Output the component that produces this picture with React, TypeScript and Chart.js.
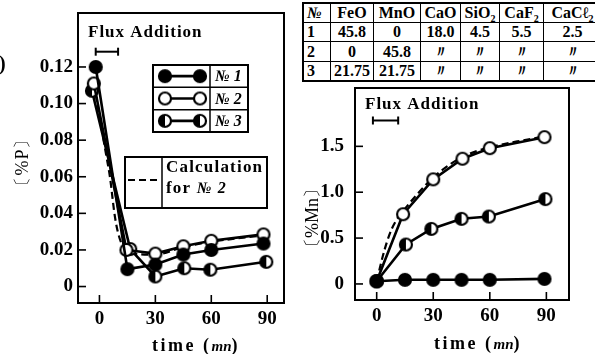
import React, { useEffect, useRef } from "react";
import { Chart, registerables } from "chart.js";
Chart.register(...registerables);

// ---- Data: %P (left chart) ----
const pTime1 = [-2, 15, 30, 45, 60, 88];
const pNo1 = [0.12, 0.0095, 0.012, 0.0175, 0.02, 0.0235];
const pTime2 = [-3, 14.5, 30, 45, 60, 88];
const pNo2 = [0.111, 0.02, 0.018, 0.022, 0.025, 0.0285];
const pTime3 = [-4, 16.5, 30, 45.5, 59.5, 89.5];
const pNo3 = [0.107, 0.0205, 0.0055, 0.01, 0.0092, 0.0135];
const pCalcTime = [-3, 5, 13, 30, 45, 60, 88];
const pCalc = [0.111, 0.064, 0.021, 0.0175, 0.0215, 0.0245, 0.028];

// ---- Data: %Mn (right chart) ----
const mnTime1 = [0, 15, 30, 45, 60, 89];
const mnNo1 = [0.03, 0.045, 0.045, 0.045, 0.045, 0.055];
const mnTime2 = [0, 14, 30, 45.5, 60, 89];
const mnNo2 = [0.03, 0.76, 1.14, 1.365, 1.48, 1.6];
const mnTime3 = [0, 15.5, 29, 45, 59.5, 89.5];
const mnNo3 = [0.03, 0.43, 0.6, 0.71, 0.735, 0.925];
const mnCalcTime = [0, 4, 8, 13, 30, 45, 60, 89];
const mnCalc = [0.03, 0.36, 0.6, 0.77, 1.16, 1.38, 1.49, 1.61];

// ---- Ticks ----
const xTicks = [0, 30, 60, 90];
const pTicks = [0, 0.02, 0.04, 0.06, 0.08, 0.1, 0.12];
const mnTicks = [0, 0.5, 1.0, 1.5];

// ---- Flux addition period (min) ----
const fluxLeft = [-2, 10];
const fluxRight = [-2, 11.4];

// ---- Table ----
const tableHead = ["№", "FeO", "MnO", "CaO", "SiO|2", "CaF|2", "CaCℓ|2"];
const tableRows = [
  ["1", "45.8", "0", "18.0", "4.5", "5.5", "2.5"],
  ["2", "0", "45.8", "〃", "〃", "〃", "〃"],
  ["3", "21.75", "21.75", "〃", "〃", "〃", "〃"],
];
const seriesNames = ["№ 1", "№ 2", "№ 3"];

const SERIF = "'Liberation Serif', 'DejaVu Serif', serif";
const LEFT_TOP = -20; // canvas offset of the left chart

type Kind = "filled" | "open" | "half";
function makeMarker(kind: Kind, r = 6) {
  const c = document.createElement("canvas");
  const s = Math.ceil(r * 2 + 4);
  c.width = s;
  c.height = s;
  const g = c.getContext("2d")!;
  const cx = s / 2, cy = s / 2;
  g.lineWidth = 2.2;
  g.beginPath();
  g.arc(cx, cy, r, 0, Math.PI * 2);
  g.fillStyle = kind === "filled" ? "#000" : "#fff";
  g.fill();
  if (kind === "half") {
    g.beginPath();
    g.arc(cx, cy, r, Math.PI / 2, (Math.PI * 3) / 2);
    g.closePath();
    g.fillStyle = "#000";
    g.fill();
  }
  g.beginPath();
  g.arc(cx, cy, r, 0, Math.PI * 2);
  g.strokeStyle = "#000";
  g.stroke();
  return c;
}

function series(xs: number[], ys: number[], marker: any, order: number) {
  return {
    data: xs.map((x, i) => ({ x, y: ys[i] })),
    borderColor: "#000",
    backgroundColor: "#000",
    borderWidth: 2.6,
    pointStyle: marker,
    pointRadius: 6,
    pointHoverRadius: 6,
    tension: 0,
    order,
  };
}
function calcSeries(xs: number[], ys: number[]) {
  return {
    data: xs.map((x, i) => ({ x, y: ys[i] })),
    borderColor: "#000",
    borderWidth: 2.2,
    borderDash: [7, 4],
    pointRadius: 0,
    tension: 0.3,
    order: 5,
  };
}

function line(ctx: CanvasRenderingContext2D, x1: number, y1: number, x2: number, y2: number) {
  ctx.beginPath();
  ctx.moveTo(x1, y1);
  ctx.lineTo(x2, y2);
  ctx.stroke();
}

function framePlugin(id: string, yTicks: number[], flux: number[], fluxTextDy: number, fluxBarDy: number, fluxTextX: number, extra?: (chart: any, markers: any) => void, markers?: any) {
  return {
    id,
    afterDraw(chart: any) {
      const { ctx, chartArea: a, scales } = chart;
      ctx.save();
      ctx.strokeStyle = "#000";
      ctx.lineWidth = 2;
      ctx.strokeRect(a.left, a.top, a.right - a.left, a.bottom - a.top);
      ctx.lineWidth = 1.6;
      xTicks.forEach((v) => {
        const x = scales.x.getPixelForValue(v);
        line(ctx, x, a.bottom, x, a.bottom - 8);
      });
      yTicks.forEach((v) => {
        const y = scales.y.getPixelForValue(v);
        line(ctx, a.left, y, a.left + 8, y);
      });
      // Flux addition label + bar
      ctx.fillStyle = "#000";
      ctx.font = `bold 17px ${SERIF}`;
      (ctx as any).letterSpacing = "1px";
      ctx.textBaseline = "middle";
      ctx.textAlign = "left";
      ctx.fillText("Flux Addition", fluxTextX, a.top + fluxTextDy);
      (ctx as any).letterSpacing = "0px";
      const x1 = scales.x.getPixelForValue(flux[0]);
      const x2 = scales.x.getPixelForValue(flux[1]);
      const by = a.top + fluxBarDy;
      ctx.lineWidth = 2;
      line(ctx, x1, by, x2, by);
      line(ctx, x1, by - 4, x1, by + 4);
      line(ctx, x2, by - 4, x2, by + 4);
      if (extra) extra(chart, markers);
      ctx.restore();
    },
  };
}

function drawLegends(chart: any, markers: any) {
  const ctx: CanvasRenderingContext2D = chart.ctx;
  const oy = -LEFT_TOP;
  // Marker legend box
  const L = 153, R = 248, T = 65 + oy, B = 132 + oy, D = 210;
  ctx.fillStyle = "#fff";
  ctx.fillRect(L, T, R - L, B - T);
  ctx.strokeStyle = "#000";
  ctx.lineWidth = 2;
  ctx.strokeRect(L, T, R - L, B - T);
  const rowH = (B - T) / 3;
  ctx.lineWidth = 1.5;
  line(ctx, L, T + rowH, R, T + rowH);
  line(ctx, L, T + 2 * rowH, R, T + 2 * rowH);
  line(ctx, D, T, D, B);
  const ms = [markers.filled, markers.open, markers.half];
  for (let i = 0; i < 3; i++) {
    const cy = T + rowH * (i + 0.5);
    ctx.lineWidth = 2.6;
    line(ctx, 165, cy, 200, cy);
    const m = ms[i];
    ctx.drawImage(m, 165 - m.width / 2, cy - m.height / 2);
    ctx.drawImage(m, 200 - m.width / 2, cy - m.height / 2);
    ctx.fillStyle = "#000";
    ctx.font = `italic bold 16px ${SERIF}`;
    ctx.textAlign = "left";
    ctx.textBaseline = "middle";
    ctx.fillText(seriesNames[i], 215, cy + 1);
  }
  // Calculation legend box
  const L2 = 125, R2 = 267, T2 = 157 + oy, B2 = 208 + oy, D2 = 162;
  ctx.fillStyle = "#fff";
  ctx.fillRect(L2, T2, R2 - L2, B2 - T2);
  ctx.strokeStyle = "#000";
  ctx.lineWidth = 2;
  ctx.strokeRect(L2, T2, R2 - L2, B2 - T2);
  ctx.lineWidth = 1.5;
  line(ctx, D2, T2, D2, B2);
  ctx.lineWidth = 2.2;
  ctx.setLineDash([7, 4]);
  line(ctx, 128, 180 + oy, 159, 180 + oy);
  ctx.setLineDash([]);
  ctx.fillStyle = "#000";
  ctx.font = `bold 17px ${SERIF}`;
  (ctx as any).letterSpacing = "1.2px";
  ctx.fillText("Calculation", 166, 168 + oy);
  ctx.fillText("for ", 166, 189 + oy);
  const w = ctx.measureText("for ").width;
  ctx.font = `italic bold 16px ${SERIF}`;
  ctx.fillText("№ 2", 166 + w, 189 + oy);
  (ctx as any).letterSpacing = "0px";
}

function makeOptions(opts: {
  xMin: number; xMax: number; yMin: number; yMax: number; yTicks: number[];
  yWidth: number; xHeight: number; padding: any; yPad: number; fmt: (v: number) => string;
}) {
  const font = { family: SERIF, size: 19, weight: "bold" as const };
  return {
    animation: false as const,
    responsive: false,
    events: [],
    layout: { padding: opts.padding },
    plugins: { legend: { display: false }, tooltip: { enabled: false }, title: { display: false } },
    scales: {
      x: {
        type: "linear" as const,
        min: opts.xMin,
        max: opts.xMax,
        grid: { display: false, drawTicks: false },
        border: { display: false },
        afterBuildTicks: (s: any) => { s.ticks = xTicks.map((v) => ({ value: v })); },
        afterFit: (s: any) => { s.height = opts.xHeight; },
        ticks: { color: "#000", font, padding: 5, maxRotation: 0, autoSkip: false, callback: (v: any) => String(v) },
      },
      y: {
        type: "linear" as const,
        min: opts.yMin,
        max: opts.yMax,
        grid: { display: false, drawTicks: false },
        border: { display: false },
        afterBuildTicks: (s: any) => { s.ticks = opts.yTicks.map((v) => ({ value: v })); },
        afterFit: (s: any) => { s.width = opts.yWidth; },
        ticks: { color: "#000", font, padding: opts.yPad, autoSkip: false, callback: (v: any) => opts.fmt(Number(v)) },
      },
    },
  };
}

export default function App() {
  const leftRef = useRef<HTMLCanvasElement>(null);
  const rightRef = useRef<HTMLCanvasElement>(null);

  useEffect(() => {
    const markers = { filled: makeMarker("filled"), open: makeMarker("open"), half: makeMarker("half") };
    const left = new Chart(leftRef.current!, {
      type: "line",
      data: {
        datasets: [
          series(pTime1, pNo1, markers.filled, 1),
          series(pTime2, pNo2, markers.open, 2),
          series(pTime3, pNo3, markers.half, 3),
          calcSeries(pCalcTime, pCalc),
        ] as any,
      },
      options: makeOptions({
        xMin: -11.5, xMax: 99, yMin: -0.009, yMax: 0.1495, yTicks: pTicks,
        yWidth: 78, xHeight: 51, padding: { left: 0, top: 13 - LEFT_TOP, right: 16, bottom: 0 }, yPad: 5,
        fmt: (v) => (v === 0 ? "0" : v.toFixed(2)),
      }) as any,
      plugins: [framePlugin("leftFrame", pTicks, fluxLeft, 20, 38.7, 88, drawLegends, markers)],
    });
    const right = new Chart(rightRef.current!, {
      type: "line",
      data: {
        datasets: [
          series(mnTime1, mnNo1, markers.filled, 1),
          series(mnTime2, mnNo2, markers.open, 2),
          series(mnTime3, mnNo3, markers.half, 3),
          calcSeries(mnCalcTime, mnCalc),
        ] as any,
      },
      options: makeOptions({
        xMin: -11.5, xMax: 102, yMin: -0.175, yMax: 2.136, yTicks: mnTicks,
        yWidth: 60, xHeight: 54, padding: { left: 0, top: 28, right: 26, bottom: 0 }, yPad: 11,
        fmt: (v) => (v === 0 ? "0" : v.toFixed(1)),
      }) as any,
      plugins: [framePlugin("rightFrame", mnTicks, fluxRight, 17, 32.5, 70)],
    });
    return () => {
      left.destroy();
      right.destroy();
    };
  }, []);

  const colW = [23, 42, 46, 39, 38, 43, 57];
  const cell = (txt: string, i: number, head: boolean) => {
    const parts = txt.split("|");
    return (
      <td
        key={i}
        style={{
          width: colW[i],
          height: 18,
          padding: 0,
          border: "1.5px solid #000",
          textAlign: i === 0 ? "left" : "center",
          paddingLeft: i === 0 ? 3 : 0,
          fontStyle: head && i === 0 ? "italic" : "normal",
          fontWeight: "bold",
          lineHeight: "18px",
          whiteSpace: "nowrap",
        }}
      >
        {parts[0]}
        {parts[1] ? <sub style={{ fontSize: 10, lineHeight: 0 }}>{parts[1]}</sub> : null}
      </td>
    );
  };

  const txt: React.CSSProperties = { position: "absolute", fontFamily: SERIF, fontWeight: "bold", color: "#000", whiteSpace: "nowrap" };

  return (
    <div style={{ position: "absolute", left: 0, top: 0, width: 595, height: 354, background: "#fff", overflow: "hidden" }}>
      <canvas ref={leftRef} width={300} height={354 - LEFT_TOP} style={{ position: "absolute", left: 0, top: LEFT_TOP, width: 300, height: 354 - LEFT_TOP }} />
      <canvas ref={rightRef} width={300} height={294} style={{ position: "absolute", left: 295, top: 60, width: 300, height: 294 }} />
      <table
        style={{
          position: "absolute", left: 302, top: 2, width: 288, height: 80, borderCollapse: "collapse",
          border: "2px solid #000", fontFamily: SERIF, fontSize: 16, color: "#000", tableLayout: "fixed", background: "#fff",
        }}
      >
        <tbody>
          <tr>{tableHead.map((t, i) => cell(t, i, true))}</tr>
          {tableRows.map((r, ri) => (
            <tr key={ri}>{r.map((t, i) => cell(t, i, false))}</tr>
          ))}
        </tbody>
      </table>
      <div style={{ ...txt, left: -1, top: 52, fontSize: 20 }}>)</div>
      <div style={{ ...txt, left: 22, top: 162, transform: "translate(-50%, -50%) rotate(-90deg)", fontSize: 18, fontWeight: "normal", letterSpacing: 1 }}>〔%P〕</div>
      <div style={{ ...txt, left: 312, top: 218, transform: "translate(-50%, -50%) rotate(-90deg)", fontSize: 18, fontWeight: "normal", letterSpacing: 0 }}>〔%Mn〕</div>
      <div style={{ ...txt, left: 196, top: 345, transform: "translate(-50%, -50%)", fontSize: 18, letterSpacing: 2.5 }}>
        time (<i style={{ fontSize: 15, letterSpacing: 0 }}>mn</i>)
      </div>
      <div style={{ ...txt, left: 478, top: 343, transform: "translate(-50%, -50%)", fontSize: 18, letterSpacing: 2.5 }}>
        time (<i style={{ fontSize: 15, letterSpacing: 0 }}>mn</i>)
      </div>
    </div>
  );
}
